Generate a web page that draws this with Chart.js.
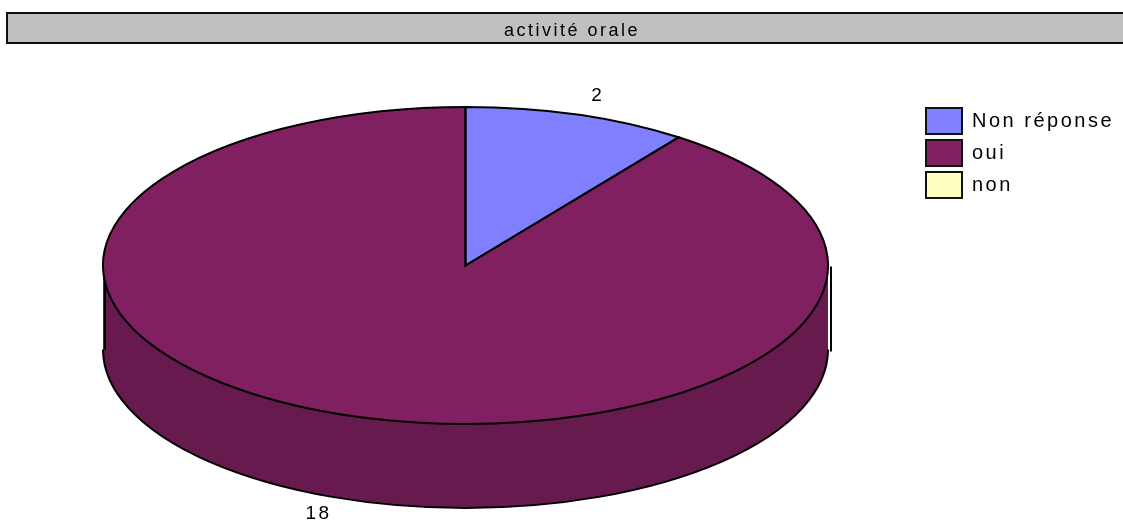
<!DOCTYPE html>
<html>
<head>
<meta charset="utf-8">
<title>activité orale</title>
<script src="https://cdn.jsdelivr.net/npm/chart.js@4"></script>
<style>
  html, body { margin: 0; padding: 0; background: #fff; overflow: hidden; }
  canvas { display: block; }
</style>
</head>
<body>
<canvas id="myChart" width="1123" height="521"></canvas>
<script>
const titleText = "activité orale";
const categories = ["Non réponse", "oui", "non"];
const answers = [2, 18, 0];
const topColors = ["#8080ff", "#802060", "#ffffc0"];
const sideColors = ["#6666cc", "#661a4d", "#cccc9a"];

// how the flat pie is turned into the tilted one
const cx = 465.5, cy = 265.5, rx = 362.5, ry = 158.5, depth = 84;
// label distance from the centre, per slice, as a share of the radius
const labelReachX = [1.18, 1.312, 1];
const labelReachY = [1.124, 1.649, 1];
const fontName = "'Liberation Sans', Arial, sans-serif";

function lowerPart(arc) {
  const a = Math.max(arc.startAngle, 0);
  const b = Math.min(arc.endAngle, Math.PI);
  return b > a ? [a, b] : null;
}

const tiltedPie = {
  id: "tiltedPie",
  afterLayout(chart) {
    // chart.js would not give us this layout by itself, so put the boxes where they belong
    chart.chartArea = { left: cx - ry, right: cx + ry, top: cy - ry, bottom: cy + ry, width: ry * 2, height: ry * 2 };
    const t = chart.titleBlock;
    t.left = 7; t.right = 1137; t.top = 20; t.bottom = 42;
    const l = chart.legend;
    l.left = 920; l.right = 1123; l.top = 102; l.bottom = 210;
  },
  beforeDraw(chart) {
    const ctx = chart.ctx;
    ctx.letterSpacing = "2.5px";
    // title banner, runs off the right edge in the original
    ctx.save();
    ctx.fillStyle = "#c0c0c0";
    ctx.strokeStyle = "#111";
    ctx.lineWidth = 2;
    ctx.beginPath();
    ctx.rect(7, 13, 1140, 30);
    ctx.fill();
    ctx.stroke();
    ctx.restore();
  },
  beforeDatasetsDraw(chart) {
    const ctx = chart.ctx;
    const arcs = chart.getDatasetMeta(0).data;
    // wall of the pie first
    arcs.forEach((arc, i) => {
      const part = lowerPart(arc);
      if (!part || answers[i] === 0) return;
      ctx.beginPath();
      ctx.ellipse(cx, cy + depth, rx, ry, 0, part[0], part[1]);
      ctx.ellipse(cx, cy, rx, ry, 0, part[1], part[0], true);
      ctx.closePath();
      ctx.fillStyle = sideColors[i];
      ctx.fill();
      ctx.beginPath();
      ctx.ellipse(cx, cy + depth, rx, ry, 0, part[0], part[1]);
      ctx.strokeStyle = "#000";
      ctx.lineWidth = 2;
      ctx.stroke();
    });
    // the two upright edges
    ctx.strokeStyle = "#000";
    ctx.lineWidth = 2;
    ctx.beginPath();
    ctx.moveTo(831, cy + 1);
    ctx.lineTo(831, cy + depth + 2);
    ctx.moveTo(cx - rx + 2, cy + 1);
    ctx.lineTo(cx - rx + 2, cy + depth);
    ctx.stroke();
    // squash the circle into an ellipse for the dataset draw
    ctx.save();
    ctx.translate(cx, cy);
    ctx.scale(rx / ry, 1);
    ctx.translate(-cx, -cy);
  },
  afterDatasetsDraw(chart) {
    const ctx = chart.ctx;
    ctx.restore();
    const arcs = chart.getDatasetMeta(0).data;
    arcs.forEach((arc, i) => {
      if (answers[i] === 0) return;
      ctx.beginPath();
      ctx.moveTo(cx, cy);
      ctx.ellipse(cx, cy, rx, ry, 0, arc.startAngle, arc.endAngle);
      ctx.closePath();
      ctx.strokeStyle = "#000";
      ctx.lineWidth = 2;
      ctx.stroke();

      const mid = (arc.startAngle + arc.endAngle) / 2;
      ctx.fillStyle = "#000";
      ctx.font = "19px " + fontName;
      ctx.textAlign = "center";
      ctx.textBaseline = "middle";
      ctx.fillText(String(answers[i]), cx + Math.cos(mid) * rx * labelReachX[i], cy + Math.sin(mid) * ry * labelReachY[i]);
    });
  }
};

new Chart(document.getElementById("myChart").getContext("2d"), {
  type: "pie",
  data: {
    labels: categories,
    datasets: [{
      data: answers,
      backgroundColor: topColors,
      borderWidth: 0
    }]
  },
  options: {
    responsive: false,
    animation: false,
    plugins: {
      title: {
        display: true,
        text: titleText,
        color: "#000",
        padding: 0,
        font: { family: fontName, size: 18, weight: "normal" }
      },
      legend: {
        display: true,
        position: "right",
        align: "start",
        labels: {
          boxWidth: 36,
          boxHeight: 26,
          padding: 6,
          color: "#000",
          font: { family: fontName, size: 20 },
          generateLabels(chart) {
            return Chart.overrides.pie.plugins.legend.labels.generateLabels(chart).map((item) => {
              item.strokeStyle = "#111";
              item.lineWidth = 2;
              return item;
            });
          }
        }
      },
      tooltip: { enabled: false }
    }
  },
  plugins: [tiltedPie]
});
</script>
</body>
</html>
